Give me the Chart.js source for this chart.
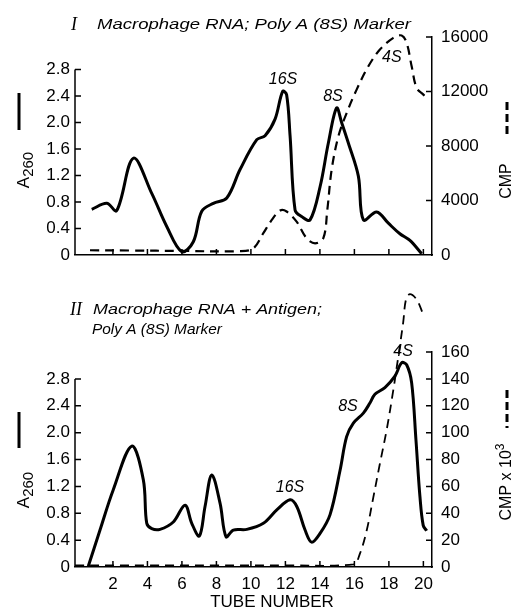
<!DOCTYPE html>
<html>
<head>
<meta charset="utf-8">
<script src="https://cdn.jsdelivr.net/npm/chart.js@4.4.0/dist/chart.umd.min.js"></script>
<style>
    html, body { margin: 0; padding: 0; background: #fff; }
    #wrap { position: relative; width: 515px; height: 613px; }
    canvas { position: absolute; left: 0; display: block; }
    #panelOne { top: 0; }
    #panelTwo { top: 290px; }
</style>
</head>
<body>
<div id="wrap">
    <canvas id="panelOne" width="515" height="290"></canvas>
    <canvas id="panelTwo" width="515" height="323"></canvas>
</div>
<script>
// Tick values
const tubeTicks = [2, 4, 6, 8, 10, 12, 14, 16, 18, 20];
const a260Ticks = [0, 0.4, 0.8, 1.2, 1.6, 2.0, 2.4, 2.8];
const cmpTicksOne = [0, 4000, 8000, 12000, 16000];
const cmpTicksTwo = [0, 20, 40, 60, 80, 100, 120, 140, 160];

// Panel I - Macrophage RNA; Poly A (8S) marker
const tubesA260One = [0.77, 1.64, 2.22, 3.18, 4.25, 5.12, 5.99, 6.66, 7.15, 7.82, 8.60, 9.37, 10.34, 10.82, 11.40, 11.84, 12.07, 12.27, 12.56, 12.94, 13.43, 14.01, 14.49, 14.97, 15.26, 15.65, 16.23, 16.52, 17.29, 17.97, 18.64, 19.22, 19.90];
const a260One = [0.69, 0.78, 0.67, 1.46, 0.93, 0.43, 0.05, 0.20, 0.66, 0.78, 0.86, 1.29, 1.74, 1.80, 2.05, 2.47, 2.42, 1.80, 0.68, 0.58, 0.53, 1.03, 1.69, 2.22, 2.00, 1.69, 1.19, 0.53, 0.65, 0.48, 0.32, 0.22, 0.02];
const tubesCmpOne = [0.67, 3, 6, 9.37, 10.14, 10.72, 11.21, 11.69, 12.07, 12.65, 13.23, 13.72, 14.20, 14.43, 14.68, 15.07, 15.55, 16.13, 16.81, 17.48, 18.26, 18.74, 19.03, 19.32, 19.61, 20.0, 20.19];
const cmpOne = [350, 330, 300, 280, 490, 1600, 2575, 3260, 3190, 2450, 1230, 860, 1230, 3310, 6250, 8700, 10420, 12140, 13850, 15080, 15940, 16110, 15570, 13850, 12260, 11770, 11500];

// Panel II - Macrophage RNA + antigen; Poly A (8S) marker
const tubesA260Two = [0.57, 1.25, 2.02, 3.09, 3.76, 3.96, 4.25, 4.73, 5.50, 6.18, 6.57, 7.01, 7.34, 7.73, 8.21, 8.56, 8.98, 9.76, 10.72, 11.50, 12.27, 12.66, 13.14, 13.52, 14.01, 14.59, 15.17, 15.55, 15.94, 16.52, 16.90, 17.19, 17.77, 18.35, 18.74, 19.03, 19.32, 19.57, 19.80, 19.99, 20.19];
const a260Two = [0.01, 0.55, 1.15, 1.80, 1.30, 0.65, 0.57, 0.56, 0.67, 0.92, 0.65, 0.46, 0.90, 1.37, 0.95, 0.45, 0.55, 0.56, 0.65, 0.85, 1.00, 0.90, 0.55, 0.37, 0.50, 0.78, 1.44, 1.94, 2.14, 2.29, 2.44, 2.57, 2.67, 2.84, 3.04, 3.01, 2.74, 1.89, 1.05, 0.62, 0.54];
const tubesCmpTwo = [-0.2, 4, 8, 12, 15.94, 16.32, 16.71, 17.10, 17.48, 17.87, 18.26, 18.55, 18.83, 18.99, 19.22, 19.61, 19.99];
const cmpTwo = [1.2, 1.2, 1.2, 1.2, 2, 10, 27, 52, 77, 102, 132, 157, 182, 199, 203, 199, 188];

const FONT = '"Liberation Sans", Arial, sans-serif';

function points(xs, ys) {
    return xs.map((x, i) => ({ x: x, y: ys[i] }));
}

// text squeezed/stretched to span x0..x1
function fitText(ctx, text, x0, x1, y, font) {
    ctx.font = font;
    const w = ctx.measureText(text).width;
    ctx.save();
    ctx.translate(x0, y);
    ctx.scale((x1 - x0) / w, 1);
    ctx.textAlign = 'left';
    ctx.textBaseline = 'middle';
    ctx.fillText(text, 0, 0);
    ctx.restore();
}

// vertical label reading bottom to top, parts may be shifted (sub/superscript)
function rotatedLabel(ctx, cx, cy, parts) {
    ctx.save();
    ctx.translate(cx, cy);
    ctx.rotate(-Math.PI / 2);
    ctx.textAlign = 'left';
    ctx.textBaseline = 'middle';
    let total = 0;
    parts.forEach(p => { ctx.font = p.font; total += ctx.measureText(p.text).width; });
    let x = -total / 2;
    parts.forEach(p => {
        ctx.font = p.font;
        ctx.fillText(p.text, x, p.shift || 0);
        x += ctx.measureText(p.text).width;
    });
    ctx.restore();
}

function vLine(ctx, x, y0, y1, dash) {
    ctx.save();
    ctx.lineWidth = 3;
    ctx.setLineDash(dash || []);
    ctx.beginPath();
    ctx.moveTo(x, y0);
    ctx.lineTo(x, y1);
    ctx.stroke();
    ctx.restore();
}

// axis extras: short left axis, inward ticks, peak labels, free text
const decorPlugin = {
    id: 'decor',
    afterDraw(chart, args, opts) {
        const ctx = chart.ctx;
        const area = chart.chartArea;
        const sx = chart.scales.x, sy = chart.scales.y, sy2 = chart.scales.y2;
        ctx.save();
        ctx.strokeStyle = '#000';
        ctx.fillStyle = '#000';
        ctx.lineWidth = 1.5;

        ctx.beginPath();
        ctx.moveTo(area.left, sy.getPixelForValue(0));
        ctx.lineTo(area.left, sy.getPixelForValue(a260Ticks[a260Ticks.length - 1]));
        ctx.stroke();

        const len = 6;
        ctx.beginPath();
        tubeTicks.forEach(v => {
            const px = sx.getPixelForValue(v);
            ctx.moveTo(px, area.bottom);
            ctx.lineTo(px, area.bottom - len);
        });
        a260Ticks.forEach(v => {
            if (v === 0) return;
            const py = sy.getPixelForValue(v);
            ctx.moveTo(area.left, py);
            ctx.lineTo(area.left + len, py);
        });
        opts.cmpTicks.forEach(v => {
            if (v === 0) return;
            const py = sy2.getPixelForValue(v);
            ctx.moveTo(area.right, py);
            ctx.lineTo(area.right - len, py);
        });
        ctx.stroke();

        ctx.font = 'italic 16px ' + FONT;
        ctx.textAlign = 'center';
        ctx.textBaseline = 'middle';
        opts.peaks.forEach(p => {
            ctx.fillText(p.text, sx.getPixelForValue(p.tube), sy.getPixelForValue(p.a260));
        });

        opts.extra(ctx);
        ctx.restore();
    }
};

function makePanel(id, cfg) {
    return new Chart(document.getElementById(id).getContext('2d'), {
        type: 'line',
        data: {
            datasets: [
                {
                    label: 'A260',
                    data: cfg.a260,
                    yAxisID: 'y',
                    borderColor: '#000',
                    borderWidth: 3,
                    pointRadius: 0,
                    tension: 0.35,
                    fill: false
                },
                {
                    label: 'CMP',
                    data: cfg.cmp,
                    yAxisID: 'y2',
                    borderColor: '#000',
                    borderWidth: cfg.dashWidth,
                    borderDash: [9, 6],
                    pointRadius: 0,
                    tension: 0.35,
                    fill: false,
                    clip: false
                }
            ]
        },
        options: {
            responsive: false,
            animation: false,
            layout: { padding: { left: 0, right: 0, top: cfg.padTop, bottom: 0 } },
            plugins: {
                legend: { display: false },
                tooltip: { enabled: false },
                decor: { cmpTicks: cfg.cmpTicks, peaks: cfg.peaks, extra: cfg.extra }
            },
            scales: {
                x: {
                    type: 'linear',
                    min: -0.2,
                    max: 20.5,
                    afterBuildTicks: s => { s.ticks = tubeTicks.map(v => ({ value: v })); },
                    afterFit: s => { s.height = cfg.xHeight; },
                    grid: { display: false, drawTicks: false },
                    border: { display: true, color: '#000', width: 1.5 },
                    ticks: {
                        display: cfg.showTubes,
                        color: '#000',
                        padding: 7,
                        maxRotation: 0,
                        autoSkip: false,
                        font: { family: FONT, size: 17 },
                        callback: v => String(v)
                    }
                },
                y: {
                    type: 'linear',
                    position: 'left',
                    min: 0,
                    max: cfg.a260Max,
                    afterBuildTicks: s => { s.ticks = a260Ticks.map(v => ({ value: v })); },
                    afterFit: s => { s.width = 75; },
                    grid: { display: false, drawTicks: false },
                    border: { display: false },
                    ticks: {
                        color: '#000',
                        padding: 5,
                        font: { family: FONT, size: 17 },
                        callback: v => v === 0 ? '0' : v.toFixed(1)
                    }
                },
                y2: {
                    type: 'linear',
                    position: 'right',
                    min: 0,
                    max: cfg.cmpMax,
                    afterBuildTicks: s => { s.ticks = cfg.cmpTicks.map(v => ({ value: v })); },
                    afterFit: s => { s.width = 83; },
                    grid: { display: false, drawTicks: false },
                    border: { display: true, color: '#000', width: 1.5 },
                    ticks: {
                        color: '#000',
                        padding: 9,
                        font: { family: FONT, size: 17 },
                        callback: v => String(v)
                    }
                }
            }
        },
        plugins: [decorPlugin]
    });
}

makePanel('panelOne', {
    a260: points(tubesA260One, a260One),
    cmp: points(tubesCmpOne, cmpOne),
    a260Max: 3.29,
    cmpMax: 16000,
    cmpTicks: cmpTicksOne,
    dashWidth: 2.2,
    padTop: 37,
    xHeight: 35,
    showTubes: false,
    peaks: [
        { text: '16S', tube: 11.86, a260: 2.65 },
        { text: '8S', tube: 14.76, a260: 2.39 },
        { text: '4S', tube: 18.17, a260: 2.98 }
    ],
    extra: ctx => {
        ctx.font = 'italic 18px "Liberation Serif", serif';
        ctx.textAlign = 'left';
        ctx.textBaseline = 'middle';
        ctx.fillText('I', 71, 25);
        fitText(ctx, 'Macrophage RNA; Poly A (8S) Marker', 97, 411, 25, 'italic 15px ' + FONT);
        vLine(ctx, 19, 93, 130);
        rotatedLabel(ctx, 24, 170, [
            { text: 'A', font: '17px ' + FONT },
            { text: '260', font: '15px ' + FONT, shift: 5 }
        ]);
        vLine(ctx, 507, 102, 138, [8, 4]);
        rotatedLabel(ctx, 507, 181, [{ text: 'CMP', font: '16px ' + FONT }]);
    }
});

makePanel('panelTwo', {
    a260: points(tubesA260Two, a260Two),
    cmp: points(tubesCmpTwo, cmpTwo),
    a260Max: 3.2,
    cmpMax: 160,
    cmpTicks: cmpTicksTwo,
    dashWidth: 1.8,
    padTop: 62,
    xHeight: 46,
    showTubes: true,
    peaks: [
        { text: '16S', tube: 12.27, a260: 1.19 },
        { text: '8S', tube: 15.63, a260: 2.39 },
        { text: '4S', tube: 18.82, a260: 3.21 }
    ],
    extra: ctx => {
        ctx.font = 'italic 18px "Liberation Serif", serif';
        ctx.textAlign = 'left';
        ctx.textBaseline = 'middle';
        ctx.fillText('II', 70, 20);
        fitText(ctx, 'Macrophage RNA + Antigen;', 93, 322, 20, 'italic 15px ' + FONT);
        fitText(ctx, 'Poly A (8S) Marker', 92, 222, 40, 'italic 15px ' + FONT);
        vLine(ctx, 19, 122, 158);
        rotatedLabel(ctx, 24, 200, [
            { text: 'A', font: '17px ' + FONT },
            { text: '260', font: '15px ' + FONT, shift: 5 }
        ]);
        vLine(ctx, 507, 100, 138, [8, 4]);
        rotatedLabel(ctx, 507, 192, [
            { text: 'CMP x 10', font: '16px ' + FONT },
            { text: '3', font: '12px ' + FONT, shift: -6 }
        ]);
        ctx.font = '17px ' + FONT;
        ctx.textAlign = 'center';
        ctx.textBaseline = 'middle';
        ctx.fillText('TUBE NUMBER', 272, 312);
    }
});
</script>
</body>
</html>
